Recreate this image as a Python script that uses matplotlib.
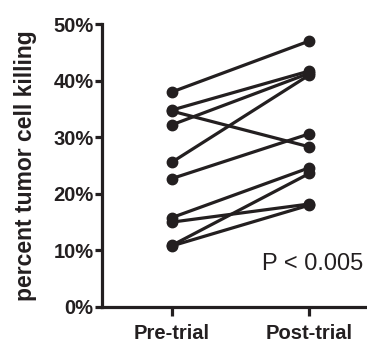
import matplotlib.pyplot as plt

# percent tumor cell killing per subject
pre_trial = [38.0, 34.8, 34.6, 32.2, 25.6, 22.7, 15.8, 15.0, 10.9, 10.8]
post_trial = [47.0, 41.7, 28.3, 41.3, 41.0, 30.6, 24.6, 18.2, 23.6, 18.0]
groups = ["Pre-trial", "Post-trial"]
y_ticks = [0, 10, 20, 30, 40, 50]

ink = "#231f20"
plt.rcParams["font.family"] = ["Liberation Sans", "DejaVu Sans"]

fig = plt.figure(figsize=(3.67, 3.44), dpi=100)
ax = fig.add_axes([102 / 367, 1 - 307 / 344, 1 - 102 / 367, (307 - 24) / 344])

for a, b in zip(pre_trial, post_trial):
    ax.plot([0, 1], [a, b], color=ink, lw=2.3, marker="o", ms=7.5,
            solid_capstyle="round", clip_on=False)

ax.set_xlim(-0.51, 1.42)
ax.set_ylim(0, 50)
ax.set_xticks([0, 1])
ax.set_xticklabels(groups, fontsize=14.5, fontweight="bold", color=ink)
ax.set_yticks(y_ticks)
ax.set_yticklabels([f"{t}%" for t in y_ticks], fontsize=14.5, fontweight="bold", color=ink)
ax.set_ylabel("percent tumor cell killing", fontsize=16.5, fontweight="bold", color=ink, labelpad=12)

for side in ["top", "right"]:
    ax.spines[side].set_visible(False)
for side in ["left", "bottom"]:
    ax.spines[side].set_linewidth(2.3)
    ax.spines[side].set_color(ink)
ax.tick_params(axis="y", length=5, width=2.3, pad=1, color=ink)
ax.tick_params(axis="x", length=6.5, width=2.3, pad=5.5, color=ink)

ax.text(0.657, 6.5, "P < 0.005", fontsize=17, color=ink)

fig.savefig("out.png", dpi=100)
